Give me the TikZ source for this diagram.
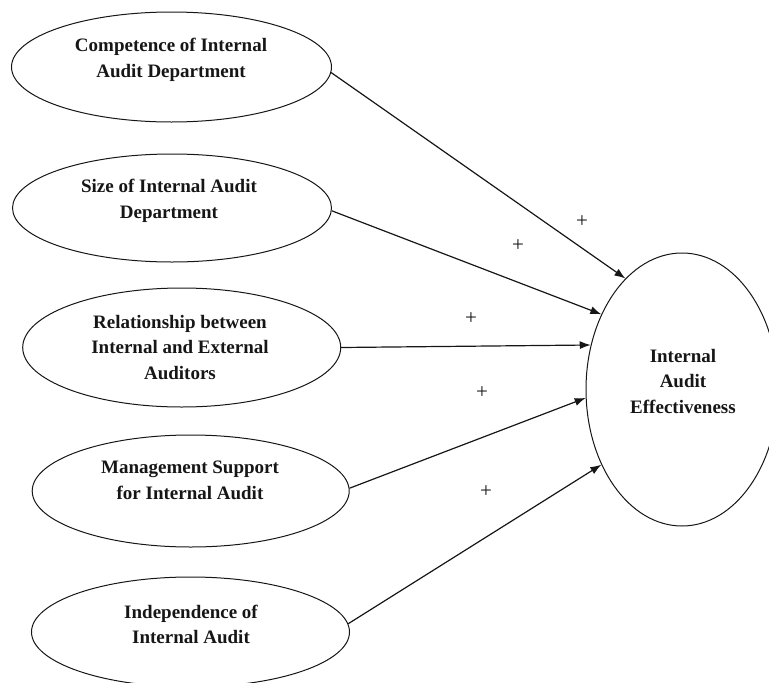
\documentclass[tikz,border=0pt]{standalone}
\usepackage{fontspec}
\setmainfont{Liberation Serif}
\usetikzlibrary{shapes.geometric,arrows.meta}
\definecolor{ink}{RGB}{22,22,22}
\begin{document}
\begin{tikzpicture}[x=1pt,y=-1pt,
  oval/.style={draw=ink,ellipse,line width=1pt,inner sep=0pt},
  lbl/.style={align=center,font=\bfseries\fontsize{19}{25.5}\selectfont,text=ink,inner sep=0pt},
  plussign/.style={font=\fontsize{21}{21}\selectfont,text=ink,inner sep=0pt},
  link/.style={draw=ink,line width=1.2pt,-{Latex[length=11pt,width=8pt]}}]
\useasboundingbox (0,0) rectangle (769,683);
% source ellipses
\node[oval,minimum width=320pt,minimum height=110pt] (e1) at (171.5,67) {};
\node[oval,minimum width=319pt,minimum height=108pt] (e2) at (172,208) {};
\node[oval,minimum width=318pt,minimum height=119pt] (e3) at (181.7,347.5) {};
\node[oval,minimum width=317pt,minimum height=112pt] (e4) at (190.7,491) {};
\node[oval,minimum width=318pt,minimum height=110pt] (e5) at (190.5,632) {};
% target
\node[oval,minimum width=192pt,minimum height=273pt] (t) at (682,389.5) {};
% labels
\node[lbl] (l1) at (171,60) {Competence of Internal\\Audit Department};
\node[lbl] (l2) at (169,201) {Size of Internal Audit\\Department};
\node[lbl] (l3) at (180,347.5) {Relationship between\\Internal and External\\Auditors};
\node[lbl] (l4) at (190,480.5) {Management Support\\for Internal Audit};
\node[lbl] (l5) at (191,624.5) {Independence of\\Internal Audit};
\node[lbl] (lt) at (683,381) {Internal\\Audit\\Effectiveness};
% connectors
\draw[link] (e1.-2.2) -- (t.117.5);
\draw[link] (e2.-1.5) -- (t.137.4);
\draw[link] (e3.0) -- (t.154.7);
\draw[link] (e4.1.1) -- (t.185.1);
\draw[link] (e5.3.3) -- (t.223);
% signs
\node[plussign] (p1) at (582,222) {+};
\node[plussign] (p2) at (518,246) {+};
\node[plussign] (p3) at (471,319) {+};
\node[plussign] (p4) at (482,393) {+};
\node[plussign] (p5) at (486,492) {+};
\end{tikzpicture}
\end{document}
